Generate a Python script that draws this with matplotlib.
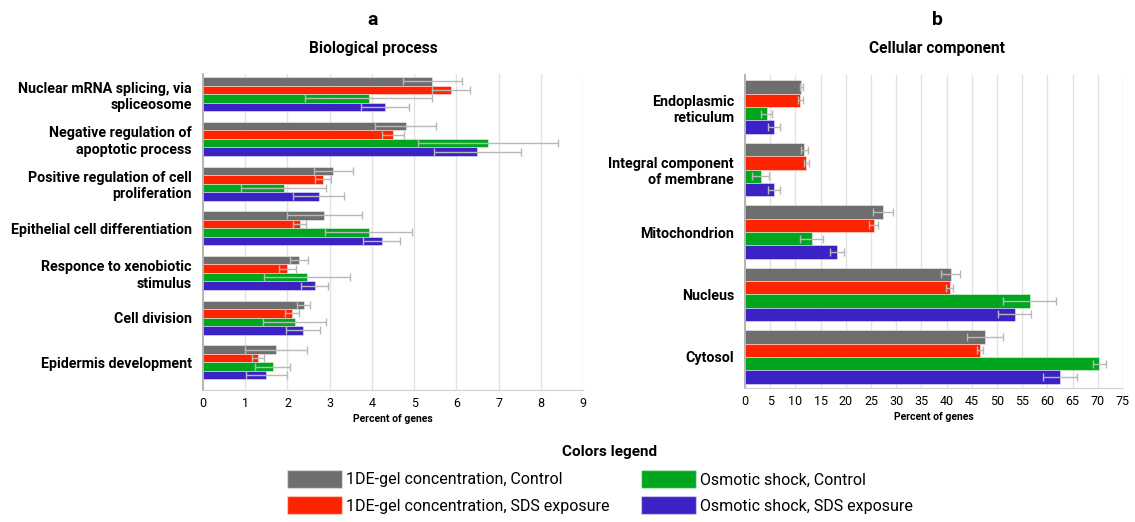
import numpy as np
from matplotlib import pyplot as plt
from matplotlib.patches import Patch

plt.rcParams['font.family'] = ['Roboto', 'DejaVu Sans']

series_labels = ['1DE-gel concentration, Control', '1DE-gel concentration, SDS exposure',
                 'Osmotic shock, Control', 'Osmotic shock, SDS exposure']
series_colors = ['#6e6e6e', '#ff2400', '#00a61e', '#3a22c4']

# Biological process (percent of genes, mean and sd)
bp_terms = ['Nuclear mRNA splicing, via\nspliceosome', 'Negative regulation of\napoptotic process',
            'Positive regulation of cell\nproliferation', 'Epithelial cell differentiation',
            'Responce to xenobiotic\nstimulus', 'Cell division', 'Epidermis development']
bp_gel_control = [5.43, 4.80, 3.08, 2.87, 2.28, 2.38, 1.73]
bp_gel_control_sd = [0.70, 0.72, 0.46, 0.89, 0.21, 0.15, 0.74]
bp_gel_sds = [5.88, 4.50, 2.83, 2.29, 2.00, 2.10, 1.30]
bp_gel_sds_sd = [0.45, 0.26, 0.19, 0.15, 0.20, 0.17, 0.15]
bp_osm_control = [3.92, 6.75, 1.91, 3.92, 2.47, 2.17, 1.65]
bp_osm_control_sd = [1.50, 1.66, 1.00, 1.04, 1.02, 0.75, 0.42]
bp_osm_sds = [4.31, 6.50, 2.74, 4.23, 2.64, 2.37, 1.50]
bp_osm_sds_sd = [0.57, 1.03, 0.61, 0.44, 0.32, 0.40, 0.48]

# Cellular component
cc_terms = ['Endoplasmic\nreticulum', 'Integral component\nof membrane', 'Mitochondrion',
            'Nucleus', 'Cytosol']
cc_gel_control = [11.2, 11.8, 27.4, 40.8, 47.6]
cc_gel_control_sd = [0.3, 0.66, 2.0, 1.9, 3.6]
cc_gel_sds = [11.0, 12.2, 25.5, 40.6, 46.7]
cc_gel_sds_sd = [0.5, 0.55, 0.83, 0.7, 0.6]
cc_osm_control = [4.3, 3.1, 13.2, 56.5, 70.3]
cc_osm_control_sd = [1.05, 1.65, 2.2, 5.3, 1.25]
cc_osm_sds = [5.75, 5.7, 18.2, 53.5, 62.5]
cc_osm_sds_sd = [1.15, 1.2, 1.4, 3.2, 3.4]


def draw_panel(ax, terms, means, sds, h, xmax, step, ylim):
    y = np.arange(len(terms))
    for k in range(4):
        ax.barh(y + (k - 1.5) * h, means[k], height=h, xerr=sds[k],
                color=series_colors[k], edgecolor=(1, 1, 1, 0.45), linewidth=0.7,
                error_kw=dict(ecolor='#b8b8b8', elinewidth=1, capsize=3, capthick=1))
    ax.set_xlim(0, xmax)
    ax.set_xticks(np.arange(0, xmax + step / 2, step))
    ax.set_ylim(*ylim)
    ax.set_yticks(y)
    ax.set_yticklabels(terms, fontsize=10.3, fontweight='bold', ha='right', multialignment='right')
    ax.tick_params(axis='y', length=0, pad=8)
    ax.tick_params(axis='x', length=0, pad=5, labelsize=9)
    ax.grid(axis='x', color='#e2e2e2', linewidth=1)
    ax.set_axisbelow(True)
    for s in ['top', 'right']:
        ax.spines[s].set_visible(False)
    ax.spines['left'].set_color('#b0b0b0')
    ax.spines['left'].set_linewidth(1.3)
    ax.spines['bottom'].set_color('#d0d0d0')
    ax.set_xlabel('Percent of genes', fontsize=7.5, fontweight='bold', labelpad=3)


fig = plt.figure(figsize=(11.35, 5.22), dpi=100)
ax1 = fig.add_axes([0.1789, 0.2529, 0.3348, 0.605])
ax2 = fig.add_axes([0.6564, 0.2567, 0.3330, 0.600])

draw_panel(ax1, bp_terms,
           [bp_gel_control, bp_gel_sds, bp_osm_control, bp_osm_sds],
           [bp_gel_control_sd, bp_gel_sds_sd, bp_osm_control_sd, bp_osm_sds_sd],
           0.19, 9, 1, (6.62, -0.447))
draw_panel(ax2, cc_terms,
           [cc_gel_control, cc_gel_sds, cc_osm_control, cc_osm_sds],
           [cc_gel_control_sd, cc_gel_sds_sd, cc_osm_control_sd, cc_osm_sds_sd],
           0.2135, 75, 5, (4.498, -0.518))

fig.text(0.3286, 0.962, 'a', fontsize=14, fontweight='bold', ha='center', va='center')
fig.text(0.3286, 0.907, 'Biological process', fontsize=11.2, fontweight='bold', ha='center', va='center')
fig.text(0.8256, 0.962, 'b', fontsize=14, fontweight='bold', ha='center', va='center')
fig.text(0.8256, 0.907, 'Cellular component', fontsize=11.2, fontweight='bold', ha='center', va='center')

fig.text(0.5374, 0.134, 'Colors legend', fontsize=11, fontweight='bold', ha='center', va='center')
handles = [Patch(facecolor=c, edgecolor=(1, 1, 1, 0.45)) for c in series_colors]
fig.legend(handles, series_labels, ncol=2, frameon=False, loc='upper left',
           bbox_to_anchor=(0.2529, 0.0996), fontsize=11.5, handlelength=3.44, handleheight=1.375,
           handletextpad=0.25, columnspacing=2.0, labelspacing=0.5, borderpad=0, borderaxespad=0)

fig.savefig('out.png', dpi=100)
